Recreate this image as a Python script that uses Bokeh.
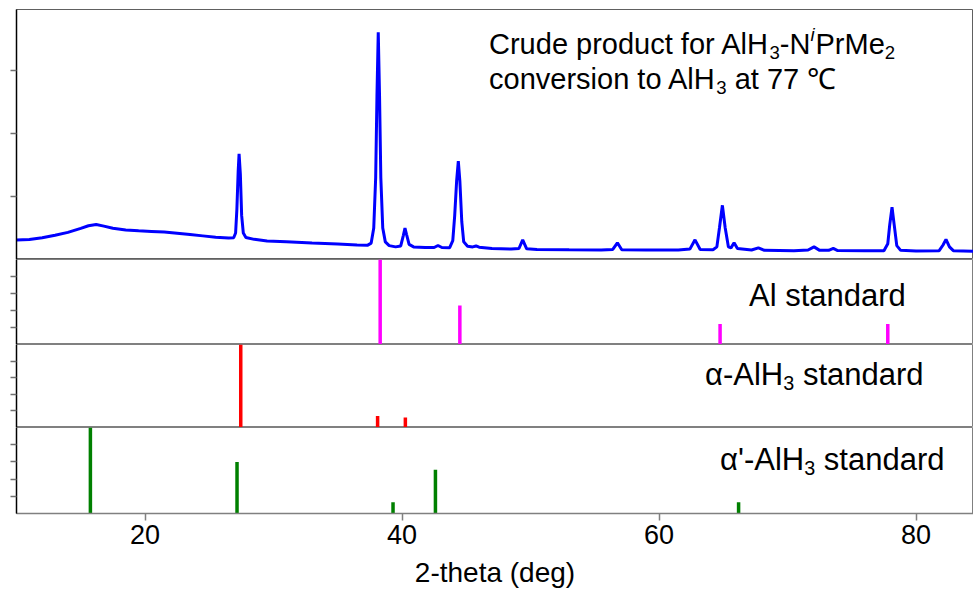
from bokeh.plotting import figure
from bokeh.layouts import column
from bokeh.models import Range1d, FixedTicker, Label
from bokeh.embed import file_html
from bokeh.resources import INLINE

# ---------------- data ----------------
# measured pattern (top panel), 2-theta in deg, intensity in counts
two_theta = [10.0, 11.0, 12.0, 13.0, 14.0, 15.0, 15.6, 16.2, 16.8, 17.5, 18.5, 19.5,
             20.5, 21.5, 22.5, 23.5, 24.5, 25.5, 26.5, 26.9, 27.05, 27.15, 27.25, 27.32,
             27.42, 27.52, 27.65, 27.85, 28.5, 29.5, 31.0, 33.0, 35.0, 36.5, 37.3, 37.6,
             37.8, 37.95, 38.05, 38.15, 38.25, 38.35, 38.5, 38.7, 39.0, 39.5, 39.9, 40.1,
             40.23, 40.35, 40.55, 40.9, 41.8, 42.5, 42.8, 43.1, 43.7, 43.95, 44.1, 44.25,
             44.38, 44.5, 44.65, 44.8, 45.1, 45.5, 45.76, 46.0, 47.0, 48.5, 49.1, 49.39,
             49.7, 50.5, 53.0, 55.5, 56.4, 56.76, 57.1, 59.0, 61.5, 62.4, 62.8, 63.2,
             64.2, 64.5, 64.7, 64.93, 65.15, 65.4, 65.6, 65.84, 66.1, 67.2, 67.73, 68.2,
             70.5, 71.6, 72.06, 72.5, 73.2, 73.56, 73.9, 76.0, 77.5, 77.8, 77.95, 78.13,
             78.3, 78.5, 78.8, 80.0, 81.8, 82.1, 82.33, 82.6, 82.9, 84.5]
counts = [310, 318, 345, 385, 430, 495, 535, 555, 530, 495, 470, 455,
          445, 435, 415, 395, 375, 355, 340, 345, 420, 800, 1400, 1678,
          1350, 700, 420, 350, 320, 295, 280, 260, 245, 230, 225, 260,
          500, 1300, 2600, 3608, 2600, 1300, 500, 280, 220, 200, 215, 380,
          497, 400, 240, 200, 190, 190, 222, 190, 185, 300, 700, 1250,
          1560, 1250, 600, 280, 210, 200, 215, 195, 175, 165, 175, 312,
          170, 160, 155, 152, 160, 265, 155, 150, 150, 165, 312, 160,
          155, 200, 500, 860, 500, 200, 185, 265, 175, 150, 185, 145,
          140, 150, 200, 145, 145, 175, 142, 138, 140, 250, 550, 830,
          550, 220, 145, 135, 140, 230, 320, 200, 140, 130]

# reference sticks (relative intensity, %)
al_pos = [38.30, 44.50, 64.75, 77.80]
al_int = [100, 46, 24, 24]
alpha_pos = [27.45, 38.10, 40.26]
alpha_int = [100, 14, 12]
alphap_pos = [15.75, 27.16, 39.30, 42.60, 66.19]
alphap_int = [100, 60, 13, 51, 13]

x_ticks = [20, 40, 60, 80]
top_ticks = [1000, 2000, 3000]
stick_ticks = [20, 40, 60, 80]

# ---------------- styling / layout ----------------
FONT = "Liberation Sans"
W = 973
xr = Range1d(10, 84.47)

# Arial / Liberation Sans advance widths (per em)
ADV = {' ': .278, "'": .191, '-': .333, 'A': .667, 'C': .722, 'H': .722, 'M': .833,
       'N': .722, 'P': .667, 'a': .556, 'c': .5, 'd': .556, 'e': .556, 'f': .278,
       'i': .222, 'l': .222, 'n': .556, 'o': .556, 'p': .556, 'r': .333, 's': .5,
       't': .278, 'u': .556, 'v': .5, '\u03b1': .579}


def text_w(s, size):
    return sum(ADV.get(ch, .556) for ch in s) * size


def rich_label(p, x, y, pieces, size):
    off = 0.0
    for txt, kind in pieces:
        fs = size if kind == "n" else round(size * 0.64, 1)
        yo = 0 if kind == "n" else (-0.28 * size if kind == "sub" else 0.36 * size)
        lead = len(txt) - len(txt.lstrip(" "))
        off += lead * ADV[' '] * fs
        body = txt.strip(" ")
        p.add_layout(Label(x=x, y=y, x_offset=off, y_offset=yo, text=body,
                           text_font=FONT, text_font_size=f"{fs}px",
                           text_font_style="italic" if kind == "sup" else "normal",
                           text_baseline="alphabetic", text_align="left",
                           text_color="black"))
        off += text_w(body, fs) + (1.0 if kind == "sup" else 0.0)


def make_fig(h, yr, ticks, top=0, bottom=0, xaxis=False):
    p = figure(width=W, height=h, x_range=xr, y_range=Range1d(*yr),
               output_backend="svg", toolbar_location=None,
               x_axis_location="below" if xaxis else None,
               min_border_left=16, min_border_right=0,
               min_border_top=top, min_border_bottom=bottom)
    p.grid.visible = False
    p.outline_line_color = "#808080"
    p.outline_line_width = 1
    p.background_fill_color = "white"
    p.border_fill_color = "white"
    ya = p.yaxis[0]
    # unlabeled ticks: drawn as minor ticks so that no tick label text exists
    ya.ticker = FixedTicker(ticks=[], minor_ticks=ticks)
    ya.major_tick_out = 0
    ya.major_tick_in = 0
    ya.minor_tick_out = 6
    ya.minor_tick_in = 0
    ya.axis_line_color = "black"
    ya.axis_line_width = 1.5
    ya.minor_tick_line_color = "#707070"
    ya.minor_tick_line_width = 1.5
    return p


# top panel: measured pattern
p1 = make_fig(259, (0, 3968), top_ticks, top=9)
p1.line(two_theta, counts, line_color="#0000FF", line_width=3)
p1.outline_line_color = "#606060"
rich_label(p1, 46.77, 3413, [("Crude product for AlH", "n"), ("3", "sub"), ("-N", "n"),
                             ("i", "sup"), ("PrMe", "n"), ("2", "sub")], 29)
rich_label(p1, 46.77, 2857, [("conversion to AlH", "n"), ("3", "sub"),
                             (" at 77 \u2103", "n")], 29)

# Al standard
p2 = make_fig(85, (0, 100), stick_ticks)
p2.segment(x0=al_pos, y0=[0] * len(al_pos), x1=al_pos, y1=al_int,
           line_color="#FF00FF", line_width=3.5)
rich_label(p2, 67.0, 57.6, [("Al standard", "n")], 31)

# alpha-AlH3 standard
p3 = make_fig(83, (0, 100), stick_ticks)
p3.segment(x0=alpha_pos, y0=[0] * len(alpha_pos), x1=alpha_pos, y1=alpha_int,
           line_color="#FF0000", line_width=3.5)
rich_label(p3, 63.58, 63.8, [("\u03b1-AlH", "n"), ("3", "sub"), (" standard", "n")], 31)

# alpha'-AlH3 standard + x axis
p4 = make_fig(163, (0, 100), stick_ticks, xaxis=True)
p4.segment(x0=alphap_pos, y0=[0] * len(alphap_pos), x1=alphap_pos, y1=alphap_int,
           line_color="#008000", line_width=3.5)
rich_label(p4, 64.75, 63.1, [("\u03b1'-AlH", "n"), ("3", "sub"), (" standard", "n")], 31)

xa = p4.xaxis[0]
xa.ticker = FixedTicker(ticks=x_ticks)
xa.major_label_text_font = FONT
xa.major_label_text_font_size = "27px"
xa.major_label_text_color = "black"
xa.major_label_standoff = 4
xa.major_tick_out = 7
xa.major_tick_in = 0
xa.minor_tick_out = 0
xa.minor_tick_in = 0
xa.axis_line_color = "#808080"
xa.axis_line_width = 1.5
xa.major_tick_line_color = "#808080"
xa.major_tick_line_width = 1.5
xa.axis_label = "2-theta (deg)"
xa.axis_label_text_font = FONT
xa.axis_label_text_font_size = "28px"
xa.axis_label_text_font_style = "normal"
xa.axis_label_text_color = "black"
xa.axis_label_standoff = 10

layout = column(p1, p2, p3, p4, spacing=0)
open("out.html", "w").write(file_html(layout, INLINE))
